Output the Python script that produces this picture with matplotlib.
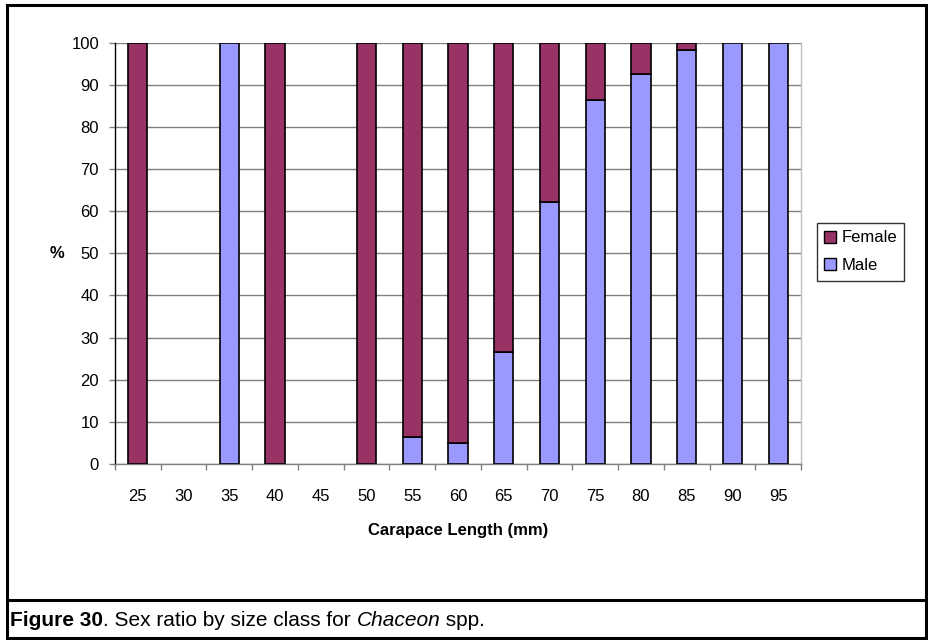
import numpy as np
import matplotlib
matplotlib.use('Agg')
import matplotlib.pyplot as plt
from matplotlib.patches import Patch
from matplotlib.lines import Line2D

plt.rcParams['font.family'] = ['Liberation Sans', 'DejaVu Sans']

# size classes (mm) and percentage by sex
size_class = ['25', '30', '35', '40', '45', '50', '55', '60', '65', '70',
              '75', '80', '85', '90', '95']
male = [0, 0, 100, 0, 0, 0, 6.4, 5.1, 26.6, 62.1, 86.3, 92.5, 98.2, 100, 100]
female = [100, 0, 0, 100, 0, 100, 93.6, 94.9, 73.4, 37.9, 13.7, 7.5, 1.8, 0, 0]
y_ticks = [0, 10, 20, 30, 40, 50, 60, 70, 80, 90, 100]

FEMALE_C = '#993366'
MALE_C = '#9999ff'

fig = plt.figure(figsize=(9.29, 6.4), dpi=100)
ax = fig.add_axes([115/929, 1-464/640, (801-115)/929, (464-42.7)/640])

x = np.arange(len(size_class))
w = 0.42
m = np.array(male, dtype=float)
f = np.array(female, dtype=float)
mk = m > 0
fk = f > 0
ax.bar(x[mk], m[mk], width=w, color=MALE_C, edgecolor='black', linewidth=1.2, zorder=3)
ax.bar(x[fk], f[fk], bottom=m[fk], width=w, color=FEMALE_C, edgecolor='black',
       linewidth=1.2, zorder=3)

ax.set_xlim(-0.5, len(size_class) - 0.5)
ax.set_ylim(0, 100)
ax.set_yticks(y_ticks)
ax.set_xticks(x)
ax.set_xticklabels(size_class)
ax.set_xticks(np.arange(-0.5, len(size_class), 1), minor=True)
ax.tick_params(axis='x', which='major', length=0, pad=18, labelsize=12)
ax.tick_params(axis='x', which='minor', length=4.5, color='#808080', width=1)
ax.tick_params(axis='y', length=4.5, color='#808080', width=1, pad=7, labelsize=12)

ax.yaxis.grid(True, color='#808080', linewidth=1, zorder=0)
ax.set_axisbelow(True)
ax.spines['top'].set_visible(False)
ax.spines['right'].set_color('#c0c0c0')
ax.spines['left'].set_color('#000000')
ax.spines['bottom'].set_color('#808080')
for s in ax.spines.values():
    s.set_linewidth(1)

ax.set_xlabel('Carapace Length (mm)', fontsize=12, fontweight='bold', labelpad=14)
fig.text(57/929, 1-254/640, '%', fontsize=12, fontweight='bold', ha='center', va='center')

handles = [Patch(facecolor=FEMALE_C, edgecolor='black', label='Female'),
           Patch(facecolor=MALE_C, edgecolor='black', label='Male')]
leg = fig.legend(handles=handles, loc='upper left', bbox_to_anchor=(817/929, 1-223/640),
                 fontsize=12, frameon=True, fancybox=False, handlelength=0.7,
                 handleheight=0.7, handletextpad=0.3, borderpad=0.45, labelspacing=0.75,
                 borderaxespad=0)
leg.get_frame().set_edgecolor('black')
leg.get_frame().set_linewidth(1)

# outer frame and caption box
def fx(px):
    return px / 929

def fy(py):
    return 1 - py / 640

frame = [([7, 926], [5, 5]), ([7, 926], [600, 600]), ([7, 926], [638, 638]),
         ([7, 7], [5, 638]), ([926, 926], [5, 638])]
for xs, ys in frame:
    fig.add_artist(Line2D([fx(v) for v in xs], [fy(v) for v in ys],
                          color='black', linewidth=2.2))

# caption built from pieces with different styles
pieces = [('Figure 30', {'fontweight': 'bold'}),
          ('. Sex ratio by size class for ', {}),
          ('Chaceon', {'style': 'italic'}),
          (' spp.', {})]
cx = fx(10)
for txt, kw in pieces:
    t = fig.text(cx, fy(620), txt, fontsize=15, va='center', **kw)
    fig.canvas.draw()
    cx = t.get_window_extent().x1 / fig.bbox.width

fig.savefig('out.png', dpi=100)
